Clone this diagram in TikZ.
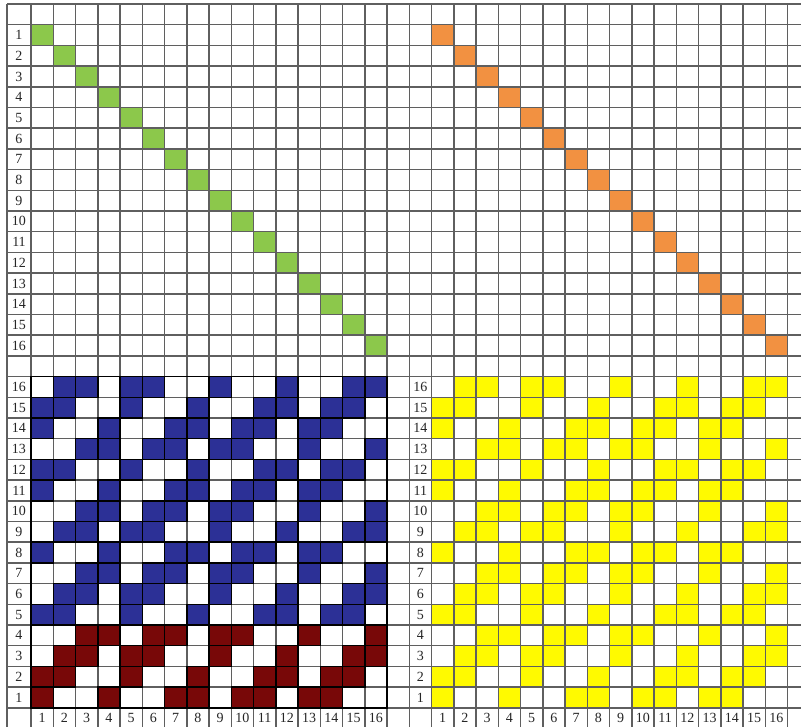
\documentclass[tikz,border=0pt]{standalone}
\usepackage{fontspec}
\setmainfont{Liberation Serif}
\definecolor{gridc}{RGB}{95,95,95}
\definecolor{grn}{RGB}{140,200,75}
\definecolor{org}{RGB}{242,145,65}
\definecolor{blu}{RGB}{44,48,150}
\definecolor{mar}{RGB}{120,8,8}
\definecolor{yel}{RGB}{255,250,0}
\tikzset{
  gridline/.style={draw=gridc, line width=1.5pt},
  darkline/.style={draw=black, line width=1.5pt},
  lbl/.style={font=\fontsize{14}{14}\selectfont, inner sep=0pt, text=black!85},
}
\newcommand\cellfill[3]{\fill[#1] ({8.75+22.25*#2},{4+20.7*#3}) rectangle ++(22.25,20.7);}
\newcommand\celldraw[2]{\draw[darkline] ({8.75+22.25*#1},{4+20.7*#2}) rectangle ++(22.25,20.7);}
\def\weave{1/{1,4,7,8,10,11,13,14},2/{1,2,5,8,11,12,14,15},3/{2,3,5,6,9,12,15,16},4/{3,4,6,7,9,10,13,16},5/{1,2,5,8,11,12,14,15},6/{2,3,5,6,9,12,15,16},7/{3,4,6,7,9,10,13,16},8/{1,4,7,8,10,11,13,14},9/{2,3,5,6,9,12,15,16},10/{3,4,6,7,9,10,13,16},11/{1,4,7,8,10,11,13,14},12/{1,2,5,8,11,12,14,15},13/{3,4,6,7,9,10,13,16},14/{1,4,7,8,10,11,13,14},15/{1,2,5,8,11,12,14,15},16/{2,3,5,6,9,12,15,16}}
\begin{document}
\begin{tikzpicture}[x=1pt,y=-1pt]
\useasboundingbox (0,0) rectangle (801,727);
\fill[white] (0,0) rectangle (801,727);
% diagonals
\foreach \i in {1,...,16}{
  \cellfill{grn}{\i}{\i}
  \pgfmathtruncatemacro\jj{18+\i}
  \cellfill{org}{\jj}{\i}
}
% woven patterns
\foreach \k/\cols in \weave{
  \pgfmathtruncatemacro\rr{34-\k}
  \foreach \c in \cols{
    \ifnum\k<5 \cellfill{mar}{\c}{\rr}\else\cellfill{blu}{\c}{\rr}\fi
    \pgfmathtruncatemacro\cc{18+\c}
    \cellfill{yel}{\cc}{\rr}
  }
}
% grid
\draw[gridline] (7,4) -- (7,727);
\foreach \j in {1,...,35}{
  \draw[gridline] ({8.75+22.25*\j},4) -- ({8.75+22.25*\j},727);
}
\foreach \r in {0,...,34}{
  \draw[gridline] (7,{4+20.7*\r}) -- (801,{4+20.7*\r});
}
% dark outlines of the left lower block
\foreach \k/\cols in \weave{
  \pgfmathtruncatemacro\rr{34-\k}
  \foreach \c in \cols{ \celldraw{\c}{\rr} }
}
\draw[darkline] (31,{4+20.7*18}) rectangle (387,{4+20.7*34});
% labels
\foreach \i in {1,...,16}{
  \node[lbl] (tl\i) at (19,{4+20.7*(\i+0.5)}) {\i};
  \node[lbl] (bl\i) at (19,{4+20.7*(34.5-\i)}) {\i};
  \node[lbl] (br\i) at ({8.75+22.25*18.5},{4+20.7*(34.5-\i)}) {\i};
  \node[lbl] (cl\i) at ({8.75+22.25*(\i+0.5)},{4+20.7*34.5}) {\i};
  \node[lbl] (cr\i) at ({8.75+22.25*(\i+18.5)},{4+20.7*34.5}) {\i};
}
\end{tikzpicture}
\end{document}
